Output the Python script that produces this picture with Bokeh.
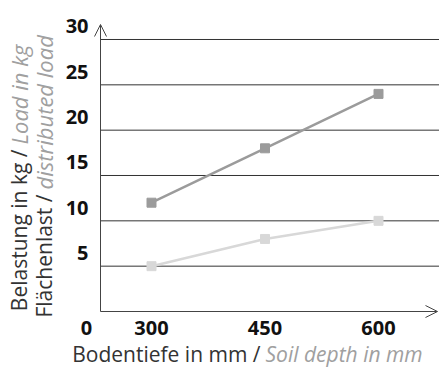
from math import pi
from bokeh.plotting import figure
from bokeh.models import Range1d, Arrow, OpenHead, Label
from bokeh.core.properties import value
from bokeh.embed import file_html
from bokeh.resources import INLINE

# ---- data ----
depth_mm = [300, 450, 600]
load_kg = [12, 18, 24]
distributed_load = [5, 8, 10]
y_ticks = [5, 10, 15, 20, 25, 30]
x_ticks = [300, 450, 600]

# ---- geometry (frame covers the whole canvas) ----
W, H = 439, 368
PX_X = 0.7567          # pixels per mm
PX_Y = 9.0667          # pixels per kg
X0 = 300 - 151 / PX_X
X1 = X0 + W / PX_X
Y1 = 311 / PX_Y
Y0 = Y1 - H / PX_Y


def dx(px):  # canvas x -> data x
    return X0 + px / PX_X


def dy(py):  # canvas y -> data y
    return Y1 - py / PX_Y


AX_X = dx(100)   # position of the vertical axis
AX_Y = 0         # position of the horizontal axis

p = figure(width=W, height=H, x_range=Range1d(X0, X1), y_range=Range1d(Y0, Y1),
           x_axis_location=None, y_axis_location=None,
           output_backend="svg", toolbar_location=None,
           min_border=0, min_border_left=0, min_border_right=0,
           min_border_top=0, min_border_bottom=0)
p.outline_line_color = None
p.background_fill_color = "white"
p.border_fill_color = "white"
p.grid.visible = False

# horizontal gridlines
p.segment(x0=[AX_X] * len(y_ticks), y0=y_ticks, x1=[X1] * len(y_ticks), y1=y_ticks,
          line_color="#333333", line_width=1)

# axes with arrow heads
axc = "#444444"
p.add_layout(Arrow(end=OpenHead(size=12, line_color=axc, line_width=1),
                   x_start=AX_X, y_start=AX_Y, x_end=AX_X, y_end=dy(24),
                   line_color=axc, line_width=1))
p.add_layout(Arrow(end=OpenHead(size=12, line_color=axc, line_width=1),
                   x_start=AX_X, y_start=AX_Y, x_end=dx(437), y_end=AX_Y,
                   line_color=axc, line_width=1))

# tick labels
tick_font = dict(text_font=value("Open Sans"), text_font_style="bold",
                 text_font_size="20px", text_color="#111111")
p.text(x=[AX_X] * len(y_ticks), y=y_ticks, text=[str(t) for t in y_ticks],
       x_offset=-12, y_offset=-13, text_align="right", text_baseline="middle", **tick_font)
p.text(x=x_ticks, y=[AX_Y] * len(x_ticks), text=[str(t) for t in x_ticks],
       y_offset=16, text_align="center", text_baseline="middle", **tick_font)
p.text(x=[AX_X], y=[AX_Y], text=["0"], x_offset=-14, y_offset=16,
       text_align="center", text_baseline="middle", **tick_font)

# series
dark = "#9b9b9b"
light = "#d8d8d8"
p.line(depth_mm, load_kg, line_color=dark, line_width=2.5)
p.scatter(depth_mm, load_kg, marker="square", size=9, color=dark)
p.line(depth_mm, distributed_load, line_color=light, line_width=2.5)
p.scatter(depth_mm, distributed_load, marker="square", size=9, color=light)

# axis titles
black = "#333333"
grey = "#a0a0a0"
fs_r = "21px"
fs_i = "22px"
p.add_layout(Label(x=dx(260), y=dy(353), text="Bodentiefe in mm /", text_align="right",
                   text_baseline="middle", text_font="Open Sans", text_font_size=fs_r,
                   text_color=black))
p.add_layout(Label(x=dx(265), y=dy(353), text="Soil depth in mm", text_align="left",
                   text_baseline="middle", text_font="Open Sans", text_font_size="21px",
                   text_font_style="italic", text_color=grey))

p.add_layout(Label(x=dx(18), y=dy(149), text="Belastung in kg /", text_align="right",
                   text_baseline="middle", angle=pi / 2, text_font="Open Sans",
                   text_font_size=fs_r, text_color=black))
p.add_layout(Label(x=dx(18), y=dy(144), text="Load in kg", text_align="left",
                   text_baseline="middle", angle=pi / 2, text_font="Open Sans",
                   text_font_size=fs_i, text_font_style="italic", text_color=grey))
p.add_layout(Label(x=dx(43), y=dy(194), text="Flächenlast /", text_align="right",
                   text_baseline="middle", angle=pi / 2, text_font="Open Sans",
                   text_font_size=fs_r, text_color=black))
p.add_layout(Label(x=dx(43), y=dy(189), text="distributed load", text_align="left",
                   text_baseline="middle", angle=pi / 2, text_font="Open Sans",
                   text_font_size=fs_i, text_font_style="italic", text_color=grey))

open("out.html", "w").write(file_html(p, INLINE))
